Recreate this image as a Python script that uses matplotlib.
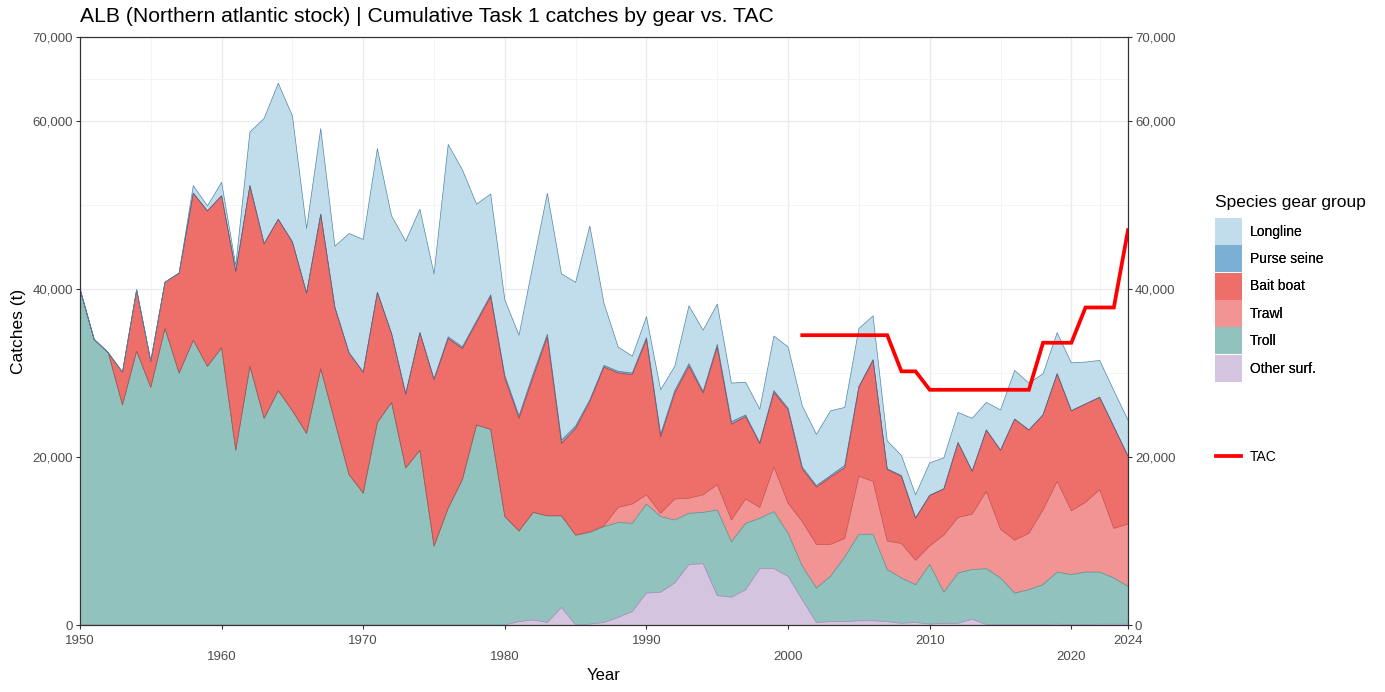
import numpy as np
import matplotlib.pyplot as plt
from matplotlib.patches import Patch
from matplotlib.lines import Line2D

plt.rcParams['font.family'] = ['Liberation Sans', 'DejaVu Sans']

years = np.arange(1950, 2025)

# catches per gear group (t)
other_surf = [0] * 31 + [
    400, 600, 300, 2100, 0, 100, 300, 900, 1600, 3800,
    3900, 5000, 7200, 7300, 3500, 3300, 4200, 6700, 6700, 5800,
    3000, 300, 400, 400, 500, 500, 400, 200, 300, 100,
    200, 200, 700, 50, 50, 50, 50, 50, 100, 50,
    50, 100, 100, 100]

troll = [
    40000, 34000, 32400, 26200, 32600, 28300, 35300, 30000, 33900, 30800,
    33000, 20800, 30800, 24600, 27900, 25500, 22800, 30500, 24200, 17900,
    15700, 24100, 26500, 18700, 20800, 9400, 13900, 17300, 23800, 23300,
    12900, 10800, 12800, 12700, 10900, 10700, 10900, 11400, 11300, 10500,
    10600, 9000, 7500, 6100, 6100, 10200, 6600, 7900, 6000, 6800,
    5100, 4000, 4100, 5400, 7700, 10300, 10300, 6200, 5400, 4500,
    7100, 3700, 6000, 5900, 6650, 5550, 3750, 4150, 4750, 6200,
    5950, 6250, 6200, 5500, 4500]

trawl = [0] * 36 + [
    100, 100, 1800, 2300, 1100, 400, 2500, 1800, 2100, 3000,
    2600, 2900, 1300, 5300, 3600, 5300, 5200, 3800, 2200, 6900,
    6300, 3400, 4100, 2900, 2200, 6800, 6600, 6600, 9200, 5800,
    6300, 6700, 8900, 10800, 7600, 8300, 9800, 5900, 7400]

bait_boat = [
    0, 0, 0, 3900, 7300, 3100, 5500, 11900, 17500, 18500,
    18100, 21300, 21500, 20800, 20400, 20100, 16700, 18400, 13600, 14500,
    14400, 15500, 8200, 8800, 14000, 19800, 20200, 15600, 12200, 15800,
    16500, 13400, 16100, 21300, 8600, 12700, 15500, 18900, 16000, 15400,
    18500, 9100, 12600, 15700, 12100, 16400, 11400, 9800, 7600, 8900,
    11100, 6300, 6800, 8000, 8400, 10600, 14400, 8500, 8000, 5000,
    6000, 5500, 8900, 5100, 7300, 9400, 14400, 12300, 11300, 12800,
    11900, 11700, 11000, 12100, 8100]

purse_seine = [0] * 25 + [
    100, 200, 200, 200, 200, 300, 300, 400, 300, 400,
    300, 200, 200, 200, 200, 200, 300, 300, 300, 200,
    300, 300, 200, 100, 200, 200, 200, 200, 200, 300,
    100, 100, 100, 100, 50, 50, 20, 20, 20, 20,
    20, 20, 20, 20, 20, 20, 20, 20, 20, 20]

longline = [
    0, 0, 0, 0, 0, 0, 0, 0, 900, 600,
    1600, 700, 6400, 14900, 16200, 15000, 7700, 10200, 7300, 14200,
    15800, 17100, 14000, 18200, 14700, 12500, 22900, 21100, 13900, 12000,
    9000, 9600, 13100, 16800, 19800, 17100, 20700, 7400, 2900, 2000,
    2500, 5300, 2900, 6900, 7300, 4800, 4600, 3900, 4000, 6500,
    7300, 7300, 6100, 7700, 6900, 6900, 5200, 3300, 2400, 2750,
    3850, 3680, 3580, 6280, 3280, 4780, 5780, 5580, 4880, 4880,
    5680, 4980, 4380, 4280, 4280]

tac_years = np.arange(2001, 2025)
tac = [34500] * 7 + [30200] * 2 + [28000] * 8 + [33600] * 3 + [37800] * 3 + [47000]

x_breaks = [1950, 1960, 1970, 1980, 1990, 2000, 2010, 2020, 2024]
y_breaks = [0, 20000, 40000, 60000, 70000]

# stacking order, bottom to top
layers = [
    ("Other surf.", other_surf, "#D5C4DF", "#9B84B3"),
    ("Troll", troll, "#92C2BD", "#4E8C87"),
    ("Trawl", trawl, "#F39494", "#C04848"),
    ("Bait boat", bait_boat, "#EE6E69", "#A83232"),
    ("Purse seine", purse_seine, "#7BAFD4", "#3F6F99"),
    ("Longline", longline, "#C1DDEB", "#4F88A6"),
]

fig = plt.figure(figsize=(13.85, 6.92), dpi=100)
ax = fig.add_axes([80 / 1385, 67 / 692, 1048 / 1385, 588 / 692])

base = np.zeros(len(years))
tops = []
for name, vals, fc, ec in layers:
    top = base + np.array(vals, dtype=float)
    ax.fill_between(years, base, top, facecolor=fc, edgecolor="none", zorder=2)
    tops.append(top)
    base = top
for (name, vals, fc, ec), top in zip(layers, tops):
    ax.plot(years, top, color=ec, lw=0.5, zorder=3)

ax.plot(tac_years, tac, color="red", lw=2.7, zorder=4, solid_joinstyle="miter")

ax.set_xlim(1950, 2024)
ax.set_ylim(0, 70000)
ax.set_xticks(x_breaks)
# dodged labels, every second one on a lower row
ax.set_xticklabels([("\n" if i % 2 else "") + str(y) for i, y in enumerate(x_breaks)])
for lbl in ax.get_xticklabels():
    lbl.set_linespacing(1.35)
ax.set_xticks([1955, 1965, 1975, 1985, 1995, 2005, 2015, 2022], minor=True)
ax.set_yticks(y_breaks)
ax.set_yticks([10000, 30000, 50000, 65000], minor=True)
ax.set_yticklabels([f"{v:,}" for v in y_breaks])
ax.grid(which="major", color="#EBEBEB", lw=1.0, zorder=0)
ax.grid(which="minor", color="#F2F2F2", lw=0.6, zorder=0)
ax.set_axisbelow(True)
ax.tick_params(axis="x", which="major", pad=4.5)
ax.tick_params(axis="y", which="major", pad=2)
ax.tick_params(which="major", length=3, color="#333333", labelsize=9.5,
               labelcolor="#4D4D4D", width=0.8)
ax.tick_params(which="minor", length=0)
for s in ax.spines.values():
    s.set_color("#333333")
    s.set_linewidth(0.8)

ax2 = ax.twinx()
ax2.set_ylim(0, 70000)
ax2.set_yticks(y_breaks)
ax2.set_yticklabels([f"{v:,}" for v in y_breaks])
ax2.tick_params(length=3, color="#333333", labelsize=9.5, labelcolor="#4D4D4D",
                width=0.8, pad=2)
for s in ax2.spines.values():
    s.set_color("#333333")
    s.set_linewidth(0.8)

ax.set_xlabel("Year", fontsize=12, labelpad=4)
ax.set_ylabel("Catches (t)", fontsize=12.5, labelpad=5)

fig.text(80 / 1385, 1 - 17 / 692,
         "ALB (Northern atlantic stock) | Cumulative Task 1 catches by gear vs. TAC",
         fontsize=15.2, va="center", ha="left")

fig.text(1215 / 1385, 1 - 202 / 692, "Species gear group", fontsize=12.5,
         va="center", ha="left")
handles = [Patch(facecolor=fc, edgecolor="none", label=name)
           for name, vals, fc, ec in reversed(layers)]
leg1 = fig.legend(handles=handles, loc="upper left",
                  bbox_to_anchor=(1208 / 1385, 1 - 211 / 692),
                  fontsize=10, frameon=False, handlelength=1.94, handleheight=2.61,
                  labelspacing=0.03, handletextpad=0.55, borderpad=0)
fig.add_artist(leg1)
fig.legend(handles=[Line2D([0], [0], color="red", lw=2.7, label="TAC")],
           loc="center left", bbox_to_anchor=(1209 / 1385, 1 - 457 / 692),
           fontsize=10, frameon=False, handlelength=1.8, handletextpad=0.65,
           borderpad=0)

fig.savefig("out.png", dpi=100)
